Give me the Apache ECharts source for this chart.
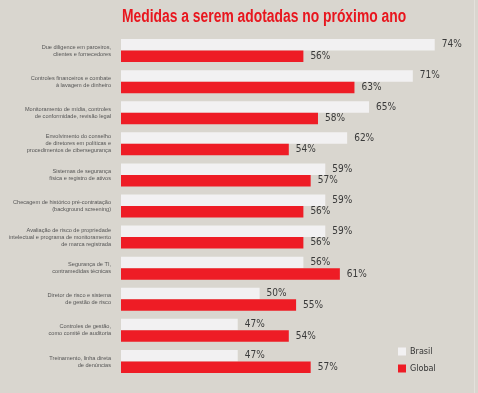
<!DOCTYPE html>
<html><head><meta charset="utf-8">
<script src="https://cdn.jsdelivr.net/npm/echarts@6/dist/echarts.min.js"></script>
<style>html,body{margin:0;padding:0;background:#d9d6cf;}#c{width:478px;height:393px;}</style>
</head><body><div id="c"></div>
<script>
const title = 'Medidas a serem adotadas no próximo ano';
const categories = [
  'Due diligence em parceiros,\nclientes e fornecedores',
  'Controles financeiros e combate\nà lavagem de dinheiro',
  'Monitoramento de mídia, controles\nde conformidade, revisão legal',
  'Envolvimento do conselho\nde diretores em políticas e\nprocedimentos de cibersegurança',
  'Sistemas de segurança\nfísica e registro de ativos',
  'Checagem de histórico pré-contratação\n(background screening)',
  'Avaliação de risco de propriedade\nintelectual e programa de monitoramento\nde marca registrada',
  'Segurança de TI,\ncontramedidas técnicas',
  'Diretor de risco e sistema\nde gestão de risco',
  'Controles de gestão,\ncomo comitê de auditoria',
  'Treinamento, linha direta\nde denúncias'
];
const seriesNames = ['Brasil', 'Global'];
const brasil = [74, 71, 65, 62, 59, 59, 59, 56, 50, 47, 47];
const global = [56, 63, 58, 54, 57, 56, 56, 61, 55, 54, 57];

const chart = echarts.init(document.getElementById('c'));
const labelStyle = {
  show: true, position: 'right', distance: 7,
  formatter: '{c}%', color: '#3a3a3a',
  fontFamily: 'DejaVu Sans Condensed, Liberation Sans, sans-serif', fontSize: 10
};
chart.setOption({
  backgroundColor: '#d9d6cf',
  animation: false,
  graphic: [{
    type: 'text', left: 122, top: 8, scaleX: 0.77,
    style: { text: title, fill: '#e8161e', font: 'bold 18px "Liberation Sans", sans-serif' }
  }, {
    type: 'rect', shape: { x: 474, y: 0, width: 1, height: 393 },
    style: { fill: '#e4e1dc' }, silent: true
  }],
  legend: {
    orient: 'vertical', left: 398, top: 347, padding: 0,
    itemWidth: 8, itemHeight: 8, itemGap: 8,
    icon: 'rect',
    textStyle: { color: '#333', fontFamily: 'DejaVu Sans Condensed, Liberation Sans, sans-serif', fontSize: 9, padding: [0, 0, 0, -1] },
    data: seriesNames
  },
  grid: { left: 121, top: 35, width: 321, height: 342, containLabel: false },
  xAxis: { type: 'value', min: 31, max: 75, show: false },
  yAxis: {
    type: 'category', data: categories, inverse: true,
    axisLine: { show: false }, axisTick: { show: false },
    axisLabel: {
      margin: 10, color: '#555', fontFamily: 'Liberation Sans', fontSize: 5.6, lineHeight: 7, align: 'right'
    }
  },
  series: [
    { name: seriesNames[0], type: 'bar', data: brasil, barWidth: 11.5, barGap: '0%',
      itemStyle: { color: '#f2f1f2' }, label: labelStyle },
    { name: seriesNames[1], type: 'bar', data: global, barWidth: 11.5, barGap: '0%',
      itemStyle: { color: '#ee1c25' }, label: labelStyle }
  ]
});
</script></body></html>
